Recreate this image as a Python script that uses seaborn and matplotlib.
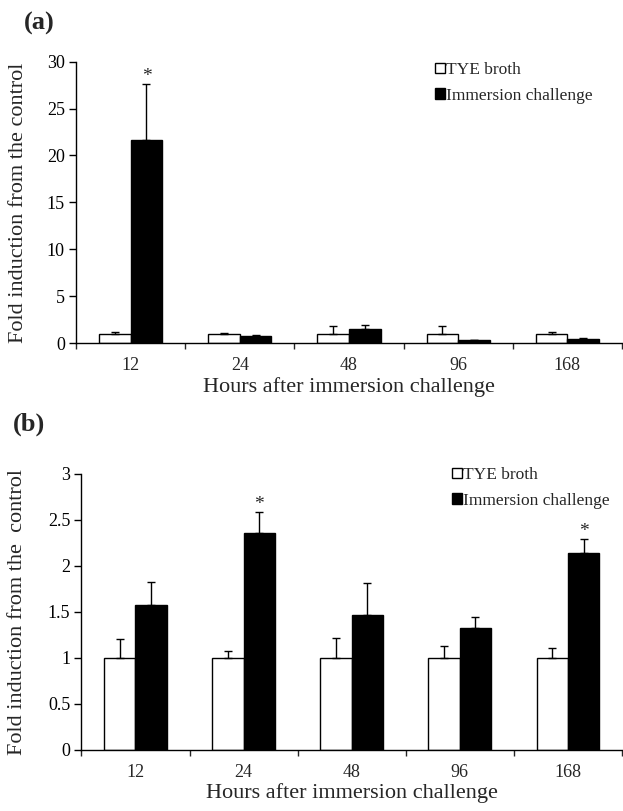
import numpy as np
import pandas as pd
import matplotlib
matplotlib.use("Agg")
import matplotlib.pyplot as plt
import seaborn as sns
from matplotlib.patches import Patch
from matplotlib.ticker import FixedLocator

# ---------------- data ----------------
hours = ["12", "24", "48", "96", "168"]
groups = ["TYE broth", "Immersion challenge"]

a_tye = [1.0, 1.0, 1.0, 1.0, 1.0]
a_tye_err = [0.20, 0.10, 0.78, 0.78, 0.20]
a_imm = [21.6, 0.71, 1.49, 0.28, 0.43]
a_imm_err = [6.05, 0.14, 0.43, 0.0, 0.14]
a_sig = ["12"]

b_tye = [1.0, 1.0, 1.0, 1.0, 1.0]
b_tye_err = [0.20, 0.07, 0.22, 0.13, 0.11]
b_imm = [1.57, 2.36, 1.47, 1.32, 2.14]
b_imm_err = [0.26, 0.23, 0.34, 0.12, 0.15]
b_sig = ["24", "168"]

a_yticks = [0, 5, 10, 15, 20, 25, 30]
a_yticklabels = ["0", "5", "10", "15", "20", "25", "30"]
b_yticks = [0, 0.5, 1, 1.5, 2, 2.5, 3]
b_yticklabels = ["0", "0.5", "1", "1.5", "2", "2.5", "3"]

sns.set_style("ticks")
plt.rcParams["font.family"] = ["Liberation Serif", "DejaVu Serif"]

W, H = 623, 811
fig = plt.figure(figsize=(W / 100, H / 100), dpi=100)


def px_axes(left, top, right, bottom):
    return fig.add_axes([left / W, 1 - bottom / H, (right - left) / W, (bottom - top) / H])


def panel(ax, tye, tye_err, imm, imm_err, sig, yticks, yticklabels, ylim, ylabel,
          ylab_x, legend_xy, letter, letter_xy):
    df = pd.DataFrame({
        "hour": hours * 2,
        "group": [groups[0]] * len(hours) + [groups[1]] * len(hours),
        "value": list(tye) + list(imm),
    })
    sns.barplot(data=df, x="hour", y="value", hue="group", order=hours,
                hue_order=groups, palette={groups[0]: "white", groups[1]: "black"},
                edgecolor="black", linewidth=1.0, width=0.58, errorbar=None,
                legend=False, ax=ax)
    bar_conts = list(ax.containers[:2])
    errs = [tye_err, imm_err]
    vals = [tye, imm]
    centers = []
    for ci, cont in enumerate(bar_conts):
        xs = [p.get_x() + p.get_width() / 2 for p in cont.patches]
        centers.append(xs)
        ax.errorbar(xs, vals[ci], yerr=[np.zeros(len(xs)), errs[ci]], fmt="none",
                    ecolor="black", elinewidth=1.0, capsize=3, capthick=1.0, zorder=1)
    # significance stars above immersion error bars
    for i, h in enumerate(hours):
        if h in sig:
            ax.annotate("*", (centers[1][i], imm[i] + imm_err[i]), xytext=(0, 2),
                        textcoords="offset points", ha="center", va="baseline",
                        fontsize=14)
    ax.set_xlim(-0.5, len(hours) - 0.5)
    ax.set_ylim(*ylim)
    ax.set_yticks(yticks)
    ax.set_yticklabels(yticklabels, fontsize=13)
    ax.tick_params(axis="y", length=5, width=1, direction="out", pad=3, colors="black")
    ax.tick_params(axis="x", which="major", length=0, pad=10, labelsize=13)
    ax.xaxis.set_minor_locator(FixedLocator(np.arange(-0.5, len(hours), 1.0)))
    ax.tick_params(axis="x", which="minor", length=4, width=1, direction="out")
    for s in ["top", "right"]:
        ax.spines[s].set_visible(False)
    for s in ["left", "bottom"]:
        ax.spines[s].set_linewidth(1.0)
        ax.spines[s].set_color("black")
    ax.set_xlabel("Hours after immersion challenge", fontsize=16)
    ax.set_ylabel(ylabel, fontsize=16)
    ax.xaxis.set_label_coords(0.5, -0.12)
    ax.yaxis.set_label_coords(ylab_x, 0.5)
    handles = [Patch(facecolor="white", edgecolor="black", linewidth=1.0),
               Patch(facecolor="black", edgecolor="black", linewidth=1.0)]
    fig.legend(handles, groups, loc="upper left",
               bbox_to_anchor=(legend_xy[0] / W, 1 - legend_xy[1] / H),
               frameon=False, fontsize=12.5, handlelength=0.55, handleheight=0.55,
               handletextpad=0.1, labelspacing=0.55, borderpad=0, borderaxespad=0)
    fig.text(letter_xy[0] / W, 1 - letter_xy[1] / H, letter, fontsize=19,
             fontweight="bold", ha="left", va="center")


ax_a = px_axes(76, 61.7, 622, 343)
panel(ax_a, a_tye, a_tye_err, a_imm, a_imm_err, a_sig, a_yticks, a_yticklabels,
      (0, 30), "Fold induction from the control", (28 - 76) / 546,
      (435, 62), "(a)", (24, 23))

ax_b = px_axes(81.4, 474, 622, 749.7)
panel(ax_b, b_tye, b_tye_err, b_imm, b_imm_err, b_sig, b_yticks, b_yticklabels,
      (0, 3), "Fold induction from the  control", (27 - 81.4) / 540.6,
      (452, 467), "(b)", (13, 424))

fig.savefig("out.png", dpi=100)
